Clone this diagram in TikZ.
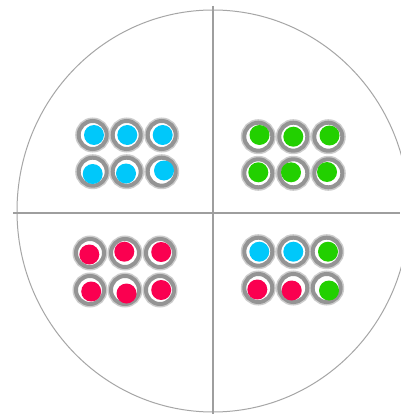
\documentclass[tikz,border=0pt]{standalone}
\begin{document}
\begin{tikzpicture}[x=1pt,y=-1pt,
  axis/.style={draw=black!38,line width=1.1pt},
  ringout/.style={circle,draw=black!20,line width=7pt,minimum size=28pt,inner sep=0pt},
  ringin/.style={circle,draw=black!42,line width=4pt,minimum size=28pt,inner sep=0pt},
  dot/.style={circle,inner sep=0pt,minimum size=20pt},
  cy/.style={dot,fill=cyanc},
  gr/.style={dot,fill=greenc},
  rd/.style={dot,fill=redc}]
\definecolor{cyanc}{HTML}{00C8FA}
\definecolor{greenc}{HTML}{22D000}
\definecolor{redc}{HTML}{FA0050}
\useasboundingbox[fill=white] (0,0) rectangle (400,414);
\draw[draw=black!35,line width=1pt] (213,211) ellipse [x radius=196,y radius=201];
\coordinate (vt) at (213,6);
\coordinate (vb) at (213,414);
\coordinate (hl) at (13,213);
\coordinate (hr) at (400,213);
\draw[axis] (vt) -- (vb);
\draw[axis] (hl) -- (hr);
\def\ringlist{
  a1/92.7/135/cy/94/135, a2/126.7/135/cy/127.3/135, a3/161.7/135/cy/162.7/135,
  a4/92.7/171.7/cy/92.7/174, a5/126.7/171.7/cy/126/173.5, a6/161.7/171.7/cy/164/170.5,
  b1/258.3/136.7/gr/259.5/135, b2/293.3/136.7/gr/293.3/136.7, b3/328.3/136.7/gr/329.5/135.5,
  b4/258.3/173.3/gr/258.3/172.3, b5/293.3/173.3/gr/291/172.3, b6/328.3/173.3/gr/327/172,
  c1/90/253/rd/89.3/254.5, c2/125/253/rd/124.3/251.7, c3/160/253/rd/161.2/252,
  c4/90/290/rd/91.2/291.5, c5/125/290/rd/126.5/293.5, c6/160/290/rd/161.2/290,
  d1/258.3/251.7/cy/259.3/251.7, d2/293.3/251.7/cy/293.3/251.7, d3/326.7/251.7/gr/328/251.7,
  d4/258.3/288/rd/257.3/289.5, d5/293.3/288/rd/291.7/290.5, d6/326.7/288/gr/329/290.5}
\foreach \n/\x/\y/\s/\dx/\dy in \ringlist {
  \node[ringout] (\n o) at (\x,\y) {};
}
\foreach \n/\x/\y/\s/\dx/\dy in \ringlist {
  \node[ringin,fill=white] (\n r) at (\x,\y) {};
  \node[\s] (\n d) at (\dx,\dy) {};
}
\end{tikzpicture}
\end{document}
